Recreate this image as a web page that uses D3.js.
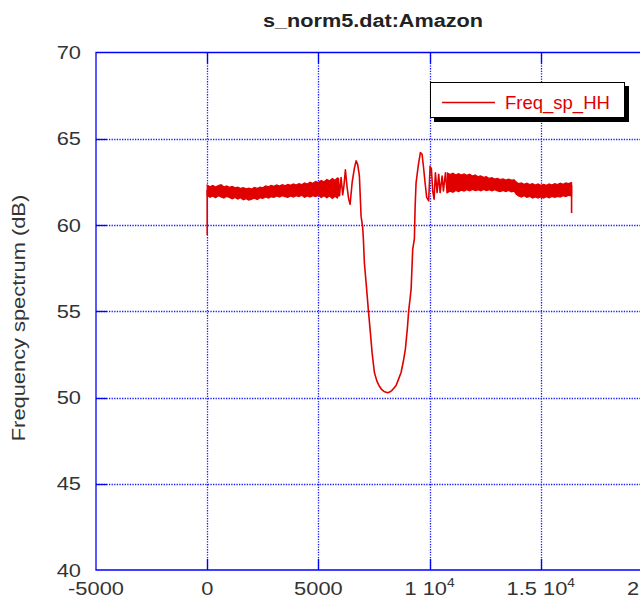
<!DOCTYPE html>
<html>
<head>
<meta charset="utf-8">
<script src="https://cdn.jsdelivr.net/npm/d3@7"></script>
<style>
body { margin: 0; background: #fff; }
text { font-family: "Liberation Sans", Arial, Helvetica, sans-serif; }
</style>
</head>
<body>
<svg id="chart" width="640" height="598"></svg>
<script>
// axis ticks
var xTicks = [-5000, 0, 5000, 10000, 15000, 20000];
var yTicks = [40, 45, 50, 55, 60, 65, 70];

// noisy flat parts of the spectrum, read as [freq, low, high]
var bandLeft = [
  [0, 61.72, 62.32], [125, 61.6, 62.22], [250, 61.68, 62.3], [375, 61.58, 62.2],
  [500, 61.7, 62.28], [625, 61.62, 62.34], [750, 61.56, 62.2], [875, 61.66, 62.26],
  [1000, 61.6, 62.18], [1125, 61.52, 62.24], [1250, 61.6, 62.16], [1375, 61.5, 62.2],
  [1500, 61.58, 62.12], [1625, 61.46, 62.16], [1750, 61.52, 62.1], [1875, 61.44, 62.14],
  [2000, 61.5, 62.08], [2125, 61.56, 62.18], [2250, 61.48, 62.12], [2375, 61.58, 62.2],
  [2500, 61.54, 62.16], [2625, 61.62, 62.26], [2750, 61.56, 62.22], [2875, 61.64, 62.3],
  [3000, 61.6, 62.24], [3125, 61.68, 62.32], [3250, 61.62, 62.26], [3375, 61.7, 62.34],
  [3500, 61.64, 62.28], [3625, 61.6, 62.36], [3750, 61.68, 62.3], [3875, 61.62, 62.38],
  [4000, 61.7, 62.32], [4125, 61.64, 62.4], [4250, 61.72, 62.34], [4375, 61.6, 62.44],
  [4500, 61.68, 62.38], [4625, 61.62, 62.48], [4750, 61.7, 62.42], [4875, 61.64, 62.52],
  [5000, 61.72, 62.46], [5125, 61.6, 62.58], [5250, 61.7, 62.5], [5375, 61.58, 62.64],
  [5500, 61.68, 62.56], [5625, 61.54, 62.7], [5750, 61.66, 62.6], [5850, 61.56, 62.72],
  [5900, 61.7, 62.6]
];
var bandRight = [
  [10800, 61.88, 63.02], [10925, 61.96, 62.92], [11050, 61.9, 63.0], [11175, 62.0, 62.9],
  [11300, 61.94, 62.98], [11425, 62.02, 62.9], [11550, 61.96, 62.96], [11675, 62.04, 62.88],
  [11800, 61.98, 62.94], [11925, 62.06, 62.84], [12050, 62.0, 62.9], [12175, 62.04, 62.8],
  [12300, 61.98, 62.84], [12425, 62.06, 62.76], [12550, 62.0, 62.8], [12675, 62.04, 62.7],
  [12800, 61.98, 62.74], [12925, 62.04, 62.66], [13050, 61.98, 62.7], [13175, 61.94, 62.64],
  [13300, 62.0, 62.68], [13425, 61.94, 62.6], [13550, 62.0, 62.66], [13675, 61.92, 62.6],
  [13800, 61.96, 62.62], [13900, 61.78, 62.5], [14000, 61.68, 62.4], [14125, 61.62, 62.44],
  [14250, 61.7, 62.36], [14375, 61.6, 62.42], [14500, 61.66, 62.34], [14625, 61.56, 62.4],
  [14750, 61.62, 62.32], [14875, 61.56, 62.38], [15000, 61.62, 62.3], [15125, 61.56, 62.36],
  [15250, 61.64, 62.3], [15375, 61.58, 62.38], [15500, 61.66, 62.32], [15625, 61.6, 62.4],
  [15750, 61.66, 62.34], [15875, 61.62, 62.42], [16000, 61.7, 62.36], [16125, 61.64, 62.44],
  [16250, 61.72, 62.4], [16384, 61.68, 62.46]
];

// distinct parts of the trace, [freq, dB]
var traceStart = [[0, 59.4], [0, 62.0], [40, 62.0]];
var traceNotch = [
  [5850, 62.1], [5900, 62.7], [5950, 61.7], [6020, 62.75], [6093, 61.75], [6150, 62.3],
  [6214, 63.2], [6290, 62.2], [6363, 61.5], [6426, 61.2], [6516, 62.45], [6619, 63.3],
  [6695, 63.72], [6767, 63.5], [6843, 62.85], [6920, 60.5], [6992, 59.85], [7023, 59.17],
  [7068, 57.8], [7145, 56.65], [7248, 55.05], [7324, 53.95], [7414, 52.6], [7518, 51.45],
  [7630, 50.95], [7743, 50.65], [7850, 50.45], [7950, 50.35], [8050, 50.3], [8116, 50.28],
  [8200, 50.32], [8300, 50.4], [8400, 50.55], [8493, 50.7], [8600, 51.05], [8718, 51.45],
  [8820, 52.1], [8911, 52.8], [9000, 54.0], [9061, 55.05], [9120, 55.7], [9169, 56.3],
  [9241, 58.6], [9316, 59.2], [9350, 61.1], [9392, 62.45], [9496, 63.5], [9586, 64.2],
  [9662, 64.1], [9721, 63.42], [9797, 62.45], [9869, 61.6], [9959, 61.4], [10022, 63.4],
  [10081, 63.25], [10140, 61.97], [10203, 61.5], [10261, 63.03], [10338, 61.88], [10410, 62.94],
  [10473, 61.88], [10563, 62.84], [10622, 61.97], [10712, 63.03], [10788, 61.88], [10850, 62.9]
];
var traceEnd = [[16340, 62.3], [16384, 62.3], [16384, 60.7]];

var seriesName = "Freq_sp_HH";
var red = "#e00000", blue = "#0000ff";

var svg = d3.select("#chart");
var pL = 96, pR = 652, pT = 52.5, pB = 570;

var x = d3.scaleLinear().domain([-5000, 20000]).range([pL, pR]);
var y = d3.scaleLinear().domain([40, 70]).range([pB, pT]);

// stretched text helper (the reference glyphs are a little wide)
function label(g, tx, ty, sx, rot) {
  return g.append("g")
    .attr("transform", "translate(" + tx + "," + ty + ")" + (rot ? " rotate(" + rot + ")" : "") + " scale(" + sx + ",1)")
    .append("text");
}

// grid
var grid = svg.append("g").attr("stroke", "#1a1aff").attr("stroke-width", 1.3).attr("stroke-dasharray", "1.3,1.3");
grid.selectAll(".gx").data(xTicks.slice(1)).enter().append("line")
  .attr("x1", function(d) { return Math.round(x(d)) + 0.5; })
  .attr("x2", function(d) { return Math.round(x(d)) + 0.5; })
  .attr("y1", pT).attr("y2", pB);
grid.selectAll(".gy").data(yTicks.slice(1, -1)).enter().append("line")
  .attr("y1", function(d) { return Math.round(y(d)) + 0.5; })
  .attr("y2", function(d) { return Math.round(y(d)) + 0.5; })
  .attr("x1", pL).attr("x2", pR);

// data
var area = d3.area()
  .x(function(d) { return x(d[0]); })
  .y0(function(d) { return y(d[1]); })
  .y1(function(d) { return y(d[2]); });
var line = d3.line()
  .x(function(d) { return x(d[0]); })
  .y(function(d) { return y(d[1]); });

[bandLeft, bandRight].forEach(function(b) {
  svg.append("path").attr("d", area(b))
    .attr("fill", red).attr("stroke", red).attr("stroke-width", 1.2);
});
[traceStart, traceNotch, traceEnd].forEach(function(t) {
  svg.append("path").attr("d", line(t))
    .attr("fill", "none").attr("stroke", red).attr("stroke-width", 1.6).attr("stroke-linejoin", "round");
});

// frame and ticks
var ax = svg.append("g").attr("stroke", blue).attr("stroke-width", 1.3).attr("fill", "none");
ax.append("path").attr("d", "M" + pR + "," + pT + "H" + pL + "V" + pB + "H" + pR);
ax.selectAll(".tx").data(xTicks.slice(1)).enter().append("path")
  .attr("d", function(d) { var p = Math.round(x(d)) + 0.5; return "M" + p + "," + pB + "v-11M" + p + "," + pT + "v11"; });
ax.selectAll(".ty").data(yTicks.slice(1, -1)).enter().append("path")
  .attr("d", function(d) { var p = Math.round(y(d)) + 0.5; return "M" + pL + "," + p + "h11"; });

// tick labels
var lab = svg.append("g").attr("fill", "#333");
yTicks.forEach(function(v) {
  label(lab, 81, y(v) + 6.5, 1.15).attr("text-anchor", "end").attr("font-size", 19).text(v);
});
xTicks.forEach(function(v) {
  var t = label(lab, x(v), 595, 1.15).attr("text-anchor", "middle").attr("font-size", 19);
  if (Math.abs(v) >= 10000) {
    t.text((v / 10000) + " 10");
    t.append("tspan").attr("font-size", 12).attr("dy", -8).text("4");
  } else {
    t.text(v);
  }
});

// axis title and chart title
label(lab, 25, 318, 1.15, -90).attr("text-anchor", "middle").attr("font-size", 19)
  .text("Frequency spectrum (dB)");
label(svg, 373, 27, 1.14).attr("text-anchor", "middle").attr("font-size", 19)
  .attr("font-weight", "bold").attr("fill", "#222").text("s_norm5.dat:Amazon");

// legend
var lg = svg.append("g");
lg.append("rect").attr("x", 434).attr("y", 86).attr("width", 195).attr("height", 36).attr("fill", "#000");
lg.append("rect").attr("x", 430.5).attr("y", 82.5).attr("width", 194).attr("height", 35)
  .attr("fill", "#fff").attr("stroke", "#000").attr("stroke-width", 1);
lg.append("line").attr("x1", 442).attr("x2", 495).attr("y1", 102.5).attr("y2", 102.5)
  .attr("stroke", red).attr("stroke-width", 1.5);
lg.append("text").attr("x", 505).attr("y", 108.5).attr("font-size", 18.5).attr("fill", red).text(seriesName);
</script>
</body>
</html>
